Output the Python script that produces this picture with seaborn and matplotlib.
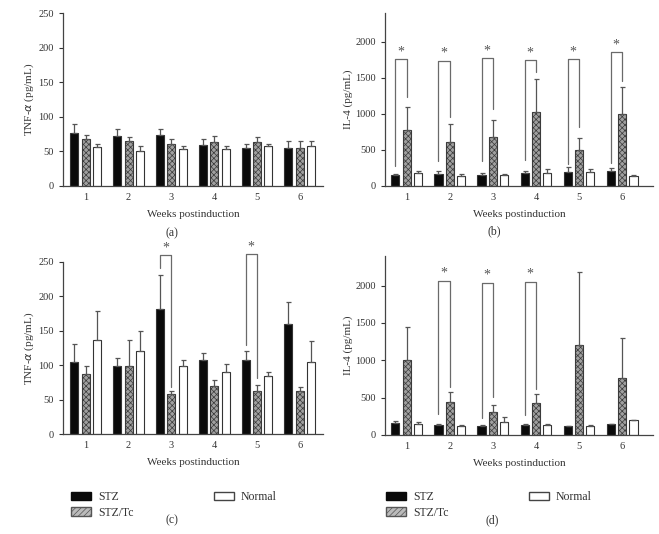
import matplotlib
matplotlib.use("Agg")
import matplotlib.pyplot as plt
import seaborn as sns
import pandas as pd
import numpy as np
from matplotlib.patches import Patch

# ---------------- data ----------------
weeks = ["1", "2", "3", "4", "5", "6"]
groups = ["STZ", "STZ/Tc", "Normal"]

# (a) TNF-alpha, first set
a_stz = [77, 72, 73, 59, 55, 55]
a_stz_se = [13, 10, 9, 8, 6, 10]
a_tc = [67, 65, 61, 63, 63, 54]
a_tc_se = [7, 5, 6, 9, 7, 11]
a_norm = [55.6, 51, 53, 53, 57.5, 57.5]
a_norm_se = [5.4, 7, 5, 5, 3.5, 7.5]

# (b) IL-4, first set
b_stz = [153, 157, 144, 171, 194, 199]
b_stz_se = [9, 51, 37, 37, 61, 42]
b_tc = [769, 611, 671, 1028, 491, 1000]
b_tc_se = [324, 241, 241, 453, 176, 367]
b_norm = [176, 139, 148, 171, 194, 140]
b_norm_se = [32, 18, 14, 56, 37, 10]

# (c) TNF-alpha, second set
c_stz = [105, 99, 181, 107, 108, 160]
c_stz_se = [25, 11, 50, 10, 12, 32]
c_tc = [87, 99, 57.5, 70, 63, 62]
c_tc_se = [11, 38, 5.5, 9, 7.5, 6]
c_norm = [136, 120, 99, 90, 84, 104]
c_norm_se = [43, 29, 9, 11, 5.5, 31]

# (d) IL-4, second set
d_stz = [156, 138, 120, 129, 116, 152]
d_stz_se = [27, 9, 14, 14, 9, 0]
d_tc = [1000, 437, 308, 433, 1210, 768]
d_tc_se = [442, 143, 89, 116, 969, 527]
d_norm = [152, 116, 170, 129, 120, 196]
d_norm_se = [18, 13, 67, 14, 18, 0]

# significance brackets: week index, top, left-leg bottom, right-leg bottom
b_br_week = [0, 1, 2, 3, 4, 5]
b_br_top = [1759, 1736, 1773, 1745, 1760, 1853]
b_br_left = [278, 338, 347, 356, 300, 310]
b_br_right = [1236, 949, 1065, 1574, 820, 1458]

c_br_week = [2, 4]
c_br_top = [259, 260.6]
c_br_left = [241, 128.6]
c_br_right = [68.7, 80.8]

d_br_week = [1, 2, 3]
d_br_top = [2067, 2040, 2054]
d_br_left = [277, 223, 268]
d_br_right = [647, 513, 612]

# ---------------- style ----------------
sns.set_style("ticks")
plt.rcParams["font.family"] = ["Liberation Serif", "DejaVu Serif"]
plt.rcParams["hatch.linewidth"] = 0.5
TXT = "#333333"
EDGE = "#333333"
palette = {"STZ": "#0a0a0a", "STZ/Tc": "#a0a0a0", "Normal": "#ffffff"}

W, H = 659, 534
fig = plt.figure(figsize=(W / 100, H / 100), dpi=100)


def ax_rect(left, right, top, bottom):
    return [left / W, 1 - bottom / H, (right - left) / W, (bottom - top) / H]


def panel(rect, stz, stz_se, tc, tc_se, norm, norm_se, ylim, yticks, ylabel,
          xlim, caption, cap_xy, br=None):
    ax = fig.add_axes(rect)
    df = pd.DataFrame({
        "week": weeks * 3,
        "group": [g for g in groups for _ in weeks],
        "value": list(stz) + list(tc) + list(norm),
    })
    sns.barplot(data=df, x="week", y="value", hue="group", order=weeks,
                hue_order=groups, palette=palette, width=0.8, gap=0.3,
                errorbar=None, edgecolor=EDGE, linewidth=0.8, legend=False,
                ax=ax)
    ses = [stz_se, tc_se, norm_se]
    vals = [stz, tc, norm]
    bar_conts = list(ax.containers)
    centers = []
    for gi, cont in enumerate(bar_conts):
        xs = [p.get_x() + p.get_width() / 2 for p in cont.patches]
        centers.append(xs)
        if groups[gi] == "STZ/Tc":
            for p in cont.patches:
                p.set_hatch("xxxxxx")
                p.set_edgecolor("#3a3a3a")
    for gi in range(3):
        ax.errorbar(centers[gi], vals[gi],
                    yerr=[np.zeros(len(weeks)), ses[gi]],
                    fmt="none", ecolor="#555555", elinewidth=0.9,
                    capsize=1.8, capthick=0.9, zorder=1)
    if br is not None:
        wk, top, lb, rb = br
        for i, t, l, r in zip(wk, top, lb, rb):
            xl = centers[0][i]
            xr = centers[1][i]
            ax.plot([xl, xl, xr, xr], [l, t, t, r], color="#6a6a6a",
                    lw=0.9, clip_on=False, zorder=3)
            ax.annotate("*", xy=((xl + xr) / 2, t), xytext=(0, 0.5),
                        textcoords="offset points", ha="center", va="bottom",
                        fontsize=10, color="#555555", annotation_clip=False)
    ax.set_ylim(*ylim)
    ax.set_yticks(yticks)
    ax.set_xlim(*xlim)
    ax.set_xlabel("Weeks postinduction", fontsize=8, color=TXT, labelpad=6)
    ax.set_ylabel(ylabel, fontsize=8, color=TXT, labelpad=2)
    ax.tick_params(axis="y", labelsize=7.5, colors=TXT, length=3, width=0.8)
    ax.tick_params(axis="x", labelsize=7.5, colors=TXT, length=0, pad=5)
    for s in ["top", "right"]:
        ax.spines[s].set_visible(False)
    for s in ["left", "bottom"]:
        ax.spines[s].set_color("#444444")
        ax.spines[s].set_linewidth(0.9)
    fig.text(cap_xy[0] / W, 1 - cap_xy[1] / H, caption, ha="center",
             va="center", fontsize=8.5, color=TXT)
    return ax


tnf_label = r"TNF-$\mathit{\alpha}$ (pg/mL)"

panel(ax_rect(63, 323, 13.3, 185.7), a_stz, a_stz_se, a_tc, a_tc_se,
      a_norm, a_norm_se, (0, 250), [0, 50, 100, 150, 200, 250], tnf_label,
      (-0.53, 5.54), "(a)", (172, 233))
panel(ax_rect(385, 653, 12.9, 185.7), b_stz, b_stz_se, b_tc, b_tc_se,
      b_norm, b_norm_se, (0, 2400), [0, 500, 1000, 1500, 2000],
      "IL-4 (pg/mL)", (-0.51, 5.72), "(b)", (494, 231),
      br=(b_br_week, b_br_top, b_br_left, b_br_right))
panel(ax_rect(63, 323, 261.7, 434), c_stz, c_stz_se, c_tc, c_tc_se,
      c_norm, c_norm_se, (0, 250), [0, 50, 100, 150, 200, 250], tnf_label,
      (-0.53, 5.54), "(c)", (172, 520),
      br=(c_br_week, c_br_top, c_br_left, c_br_right))
panel(ax_rect(385, 653, 255.8, 435), d_stz, d_stz_se, d_tc, d_tc_se,
      d_norm, d_norm_se, (0, 2400), [0, 500, 1000, 1500, 2000],
      "IL-4 (pg/mL)", (-0.51, 5.72), "(d)", (492, 520),
      br=(d_br_week, d_br_top, d_br_left, d_br_right))

# legends
handles = [
    Patch(facecolor="#0a0a0a", edgecolor="#0a0a0a", label="STZ"),
    Patch(facecolor="#bbbbbb", edgecolor="#555555", hatch="//////",
          label="STZ/Tc"),
    Patch(facecolor="white", edgecolor="#444444", label="Normal"),
]
for lx in (71, 386):
    fig.legend(handles=handles, loc="upper left",
               bbox_to_anchor=(lx / W, 1 - 491 / H), ncol=2, frameon=False,
               fontsize=8.5, handlelength=1.7, handleheight=0.7,
               handletextpad=0.6, columnspacing=6.8, labelspacing=0.3,
               borderpad=0, borderaxespad=0, labelcolor=TXT)

fig.savefig("out.png", dpi=100)
